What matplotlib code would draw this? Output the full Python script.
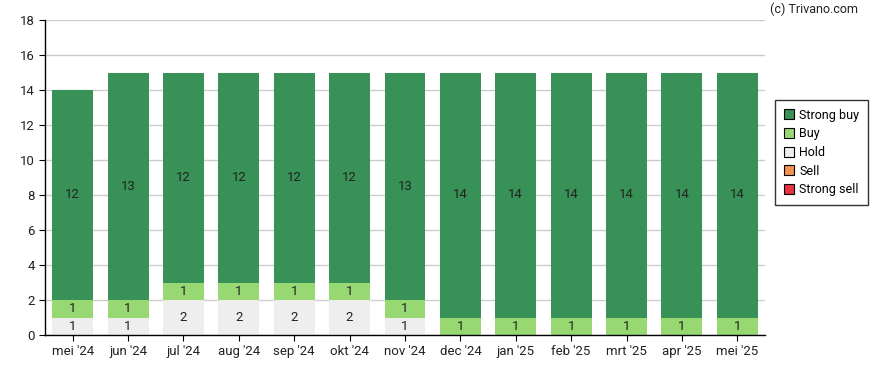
import matplotlib
matplotlib.use("Agg")
import matplotlib.pyplot as plt
import numpy as np

plt.rcParams['font.family'] = ['Roboto', 'DejaVu Sans']

months = ["mei '24", "jun '24", "jul '24", "aug '24", "sep '24", "okt '24", "nov '24",
          "dec '24", "jan '25", "feb '25", "mrt '25", "apr '25", "mei '25"]
strong_sell = [0, 0, 0, 0, 0, 0, 0, 0, 0, 0, 0, 0, 0]
sell = [0, 0, 0, 0, 0, 0, 0, 0, 0, 0, 0, 0, 0]
hold = [1, 1, 2, 2, 2, 2, 1, 0, 0, 0, 0, 0, 0]
buy = [1, 1, 1, 1, 1, 1, 1, 1, 1, 1, 1, 1, 1]
strong_buy = [12, 13, 12, 12, 12, 12, 13, 14, 14, 14, 14, 14, 14]

series = [
    ("Strong sell", strong_sell, "#e8323f"),
    ("Sell", sell, "#f5914f"),
    ("Hold", hold, "#eeeeee"),
    ("Buy", buy, "#98d872"),
    ("Strong buy", strong_buy, "#389257"),
]

fig = plt.figure(figsize=(8.88, 3.70), dpi=100)
ax = fig.add_axes([45/888, 1-335/370, 720/888, 315/370])

x = np.arange(len(months))
bottom = np.zeros(len(months))
for name, vals, col in series:
    vals = np.array(vals, dtype=float)
    ax.bar(x, vals, bottom=bottom, width=0.74, color=col, zorder=2)
    for xi, v, b in zip(x, vals, bottom):
        if v > 0:
            ax.text(xi, b + v/2, f"{int(v)}", ha='center', va='center', fontsize=9.5, color='#222222', zorder=3)
    bottom += vals

ax.set_xlim(-0.5, len(months) - 0.5)
ax.set_ylim(0, 18)
ax.set_yticks(range(0, 19, 2))
ax.set_xticks(x)
ax.set_xticklabels(months)
ax.tick_params(axis='both', labelsize=9.5, length=4, color='black', labelcolor='#222222')
ax.grid(axis='y', color='#cccccc', linewidth=1, zorder=0)
ax.set_axisbelow(True)
for s in ['top', 'right']:
    ax.spines[s].set_visible(False)
ax.spines['left'].set_linewidth(1)
ax.spines['bottom'].set_linewidth(1)

order = ["Strong buy", "Buy", "Hold", "Sell", "Strong sell"]
cols = {n: c for n, _, c in series}
from matplotlib.patches import Patch
lh = [Patch(facecolor=cols[n], edgecolor='black', linewidth=0.8) for n in order]
leg = fig.legend(lh, order, loc='upper left', bbox_to_anchor=(775/888, 1-100/370),
                 fontsize=9, frameon=True, fancybox=False, edgecolor='black',
                 handlelength=0.85, handleheight=0.85, handletextpad=0.4,
                 labelspacing=0.45, borderpad=0.7, borderaxespad=0)
leg.get_frame().set_linewidth(1)

fig.text(858/888, 1-9/370, "(c) Trivano.com", ha='right', va='center', fontsize=9, color='#222222')

fig.savefig("out.png", dpi=100)
